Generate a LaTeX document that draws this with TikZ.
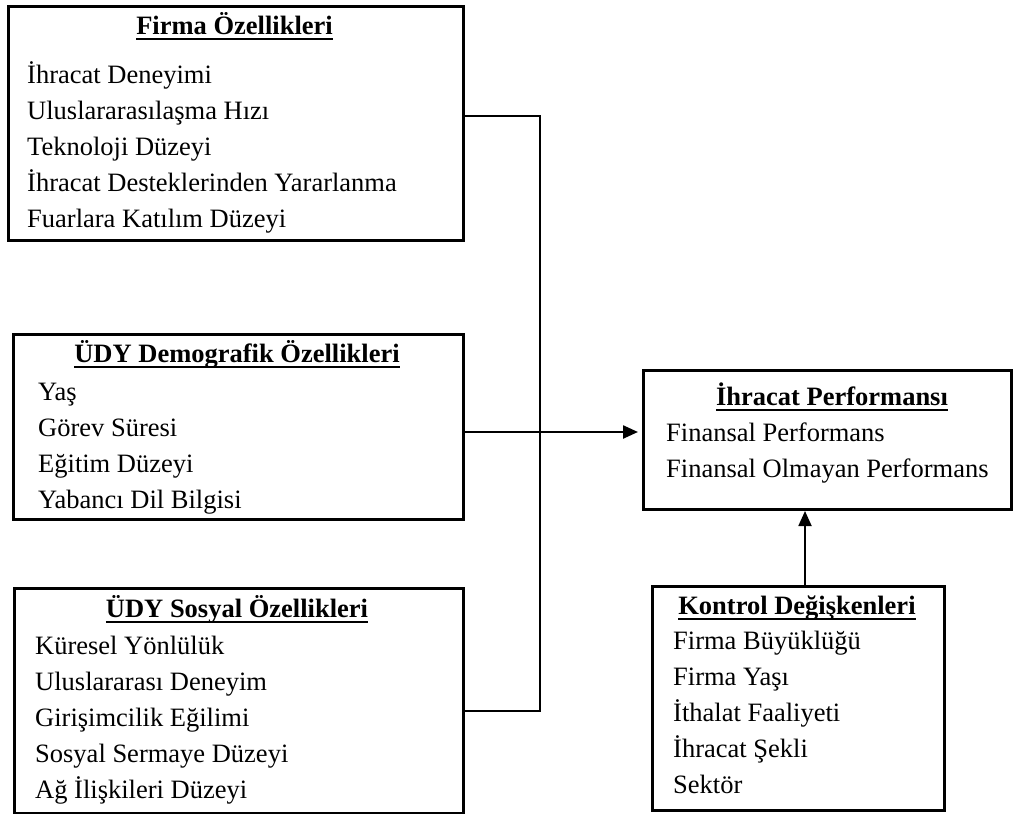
\documentclass[tikz,border=0pt]{standalone}
\usepackage{fontspec}
\setmainfont{Liberation Serif}
\usetikzlibrary{arrows.meta,calc}
\begin{document}
\begin{tikzpicture}[x=1pt,y=-1pt,
  box/.style={draw=black, line width=3pt, rectangle, inner sep=0pt, anchor=north west},
  heading/.style={font=\fontsize{26.5}{30}\selectfont\bfseries, inner sep=0pt, anchor=base},
  item/.style={font=\fontsize{26.5}{30}\selectfont, inner sep=0pt, anchor=base west},
  uline/.style={line width=1.6pt},
  conn/.style={line width=2.6pt, line join=miter},
  arr/.style={-{Triangle[length=15pt,width=13pt]}, line width=2.4pt}
]
\useasboundingbox[fill=white] (0,0) rectangle (1013,814);

% frames
\node[box, minimum width=455pt, minimum height=234pt] (b1) at (7,5) {};
\node[box, minimum width=450pt, minimum height=185pt] (b2) at (12,333) {};
\node[box, minimum width=449pt, minimum height=225pt] (b3) at (13,587) {};
\node[box, minimum width=368pt, minimum height=139pt] (b4) at (642,369) {};
\node[box, minimum width=292pt, minimum height=224pt] (b5) at (651,585) {};

% headings
\node[heading] (t1) at (234.5,34) {Firma Özellikleri};
\node[heading] (t2) at (237,362) {ÜDY Demografik Özellikleri};
\node[heading] (t3) at (237,617) {ÜDY Sosyal Özellikleri};
\node[heading] (t4) at (832,405) {İhracat Performansı};
\node[heading] (t5) at (797,614) {Kontrol Değişkenleri};
\foreach \h in {t1,t2,t3,t4,t5}
  \draw[uline] ($(\h.base west)+(0,5)$) -- ($(\h.base east)+(0,5)$);

% items
\foreach \t [count=\k] in {İhracat Deneyimi, Uluslararasılaşma Hızı, Teknoloji Düzeyi,
    İhracat Desteklerinden Yararlanma, Fuarlara Katılım Düzeyi}
  \node[item] (f\k) at (27,{83+36*(\k-1)}) {\t};
\foreach \t [count=\k] in {Yaş, Görev Süresi, Eğitim Düzeyi, Yabancı Dil Bilgisi}
  \node[item] (d\k) at (38,{400+36*(\k-1)}) {\t};
\foreach \t [count=\k] in {Küresel Yönlülük, Uluslararası Deneyim, Girişimcilik Eğilimi,
    Sosyal Sermaye Düzeyi, Ağ İlişkileri Düzeyi}
  \node[item] (s\k) at (35,{654+36*(\k-1)}) {\t};
\foreach \t [count=\k] in {Finansal Performans, Finansal Olmayan Performans}
  \node[item] (p\k) at (666,{441+36*(\k-1)}) {\t};
\foreach \t [count=\k] in {Firma Büyüklüğü, Firma Yaşı, İthalat Faaliyeti, İhracat Şekli, Sektör}
  \node[item] (k\k) at (673,{649+36*(\k-1)}) {\t};

% connectors
\coordinate (j1) at (540,116);
\coordinate (j3) at (540,711);
\coordinate (jm) at (540,432);
\coordinate (kx) at (805,560);
\draw[conn] (b1.east |- j1) -- (j1) -- (j3) -- (b3.east |- j3);
\draw[arr, shorten >=4pt] (b2.east |- jm) -- (b4.west |- jm);
\draw[arr, line width=1.8pt] (b5.north -| kx) -- (b4.south -| kx);
\end{tikzpicture}
\end{document}
